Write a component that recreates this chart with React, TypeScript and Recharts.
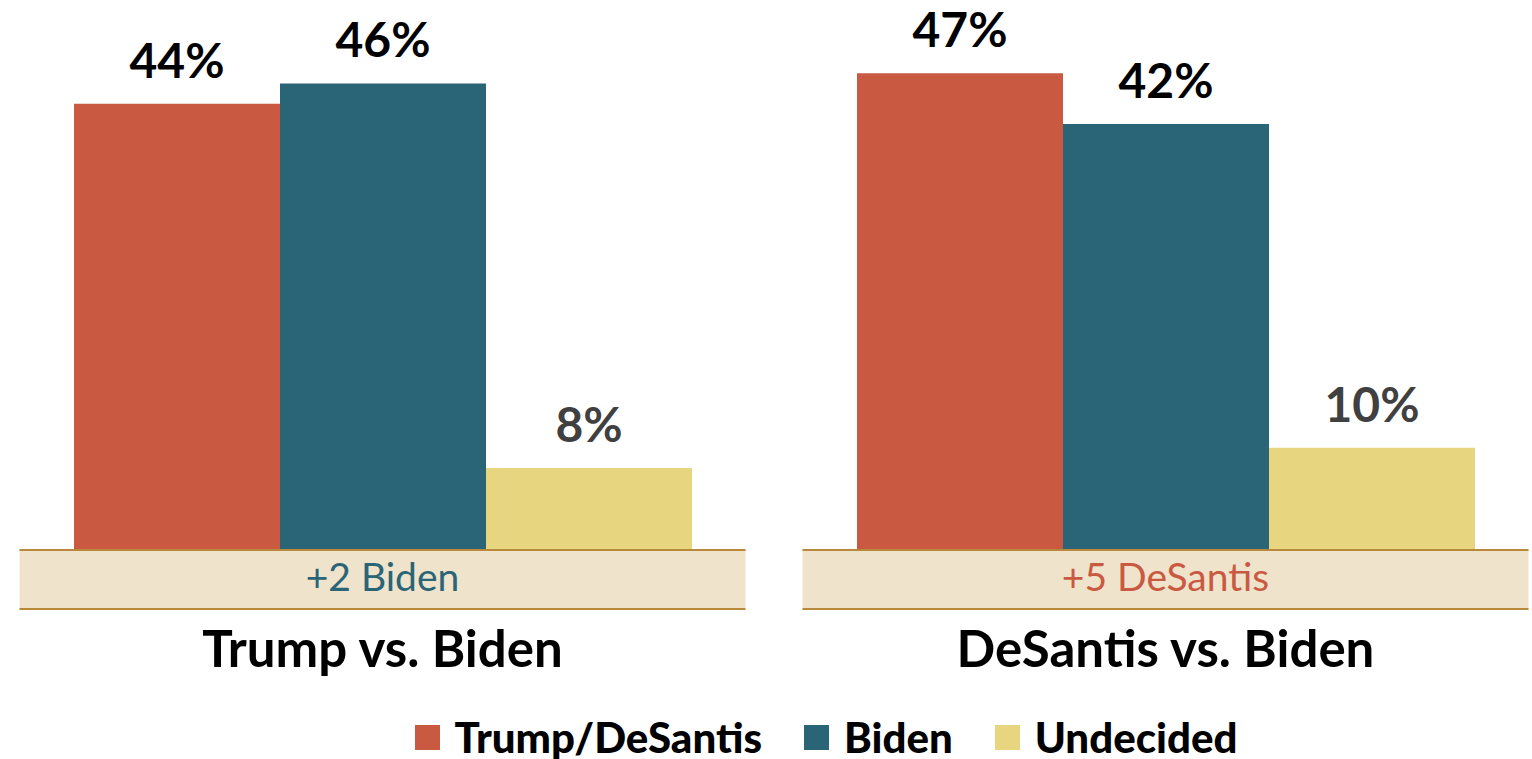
import { BarChart, Bar, XAxis, YAxis, Legend, LabelList } from 'recharts';

const categories = ['Trump vs. Biden', 'DeSantis vs. Biden'];
const trumpDesantis = [44, 47];
const biden = [46, 42];
const undecided = [8, 10];
const marginLabels = ['+2 Biden', '+5 DeSantis'];
const marginLeader = ['biden', 'trump'];
const seriesNames = ['Trump/DeSantis', 'Biden', 'Undecided'];

const COLORS: Record<string, string> = {
  trump: '#C95941',
  biden: '#2A6577',
  undecided: '#E7D580',
};

const FONT = 'Lato, "Open Sans", sans-serif';

const data = categories.map((c, i) => ({
  name: c,
  trump: trumpDesantis[i],
  biden: biden[i],
  undecided: undecided[i],
}));

function CategoryTick(props: any) {
  const { x, y, index, payload } = props;
  const w = 726;
  return (
    <g>
      <rect x={x - w / 2} y={y} width={w} height={60} fill="#EFE3CC" />
      <line x1={x - w / 2} x2={x + w / 2} y1={y + 1} y2={y + 1} stroke="#B8893A" strokeWidth={2} />
      <line x1={x - w / 2} x2={x + w / 2} y1={y + 60} y2={y + 60} stroke="#B8893A" strokeWidth={2} />
      <text x={x} y={y + 42} textAnchor="middle" fontFamily={FONT} fontSize={39}
        fill={COLORS[marginLeader[index]]}>
        {marginLabels[index]}
      </text>
      <text x={x} y={y + 118} textAnchor="middle" fontFamily={FONT} fontSize={51}
        fontWeight={700} fill="#000">
        {payload.value}
      </text>
    </g>
  );
}

function valueLabel(color: string) {
  return (props: any) => {
    const { x, y, width, value } = props;
    return (
      <text x={x + width / 2} y={y - 26} textAnchor="middle" fontFamily={FONT}
        fontSize={48} fontWeight={700} fill={color}>
        {value}%
      </text>
    );
  };
}

function LegendContent(props: any) {
  const items = [...(props.payload || [])].sort(
    (a: any, b: any) => seriesNames.indexOf(a.value) - seriesNames.indexOf(b.value),
  );
  return (
    <div style={{
      display: 'flex', justifyContent: 'center', alignItems: 'center', height: 54,
      gap: 42, paddingTop: 10, paddingLeft: 104, boxSizing: 'border-box',
    }}>
      {items.map((it: any) => (
        <div key={it.value} style={{ display: 'flex', alignItems: 'center' }}>
          <span style={{ display: 'inline-block', width: 25, height: 25, background: it.color, marginRight: 15 }} />
          <span style={{ fontFamily: FONT, fontWeight: 900, fontSize: 42, color: '#000' }}>{it.value}</span>
        </div>
      ))}
    </div>
  );
}

export default function App() {
  return (
    <div style={{ position: 'absolute', left: 0, top: 0, width: 1532, height: 759, background: '#fff' }}>
      <BarChart width={1532} height={759} data={data} barGap={0} barCategoryGap={83}
        margin={{ top: 43, right: -25, bottom: 0, left: -9 }}>
        <XAxis dataKey="name" axisLine={false} tickLine={false} tickSize={0} tickMargin={0}
          height={156} tick={<CategoryTick />} interval={0} />
        <YAxis hide domain={[0, 50]} />
        <Legend verticalAlign="bottom" content={<LegendContent />} />
        <Bar dataKey="trump" name="Trump/DeSantis" fill={COLORS.trump} isAnimationActive={false}>
          <LabelList dataKey="trump" content={valueLabel('#000')} />
        </Bar>
        <Bar dataKey="biden" name="Biden" fill={COLORS.biden} isAnimationActive={false}>
          <LabelList dataKey="biden" content={valueLabel('#000')} />
        </Bar>
        <Bar dataKey="undecided" name="Undecided" fill={COLORS.undecided} isAnimationActive={false}>
          <LabelList dataKey="undecided" content={valueLabel('#404040')} />
        </Bar>
      </BarChart>
    </div>
  );
}
